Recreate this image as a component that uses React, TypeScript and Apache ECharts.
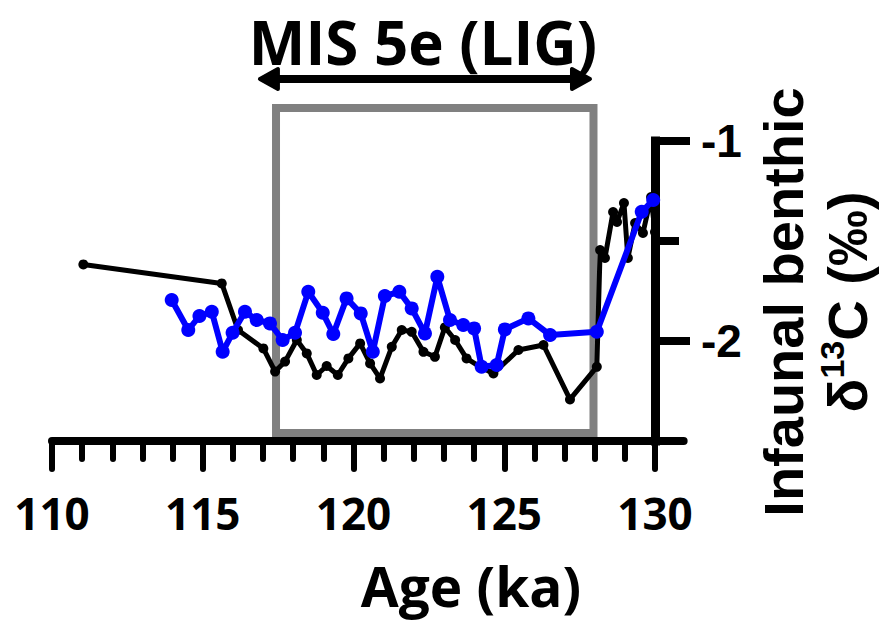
import React, { useEffect, useRef } from "react";
import * as echarts from "echarts";

// Black series: age (ka) and infaunal benthic δ13C (‰)
const blackAge = [
  111.04, 115.63, 116.17, 117.01, 117.4, 117.73, 118.12, 118.45, 118.78, 119.11,
  119.48, 119.83, 120.22, 120.55, 120.88, 121.27, 121.6, 121.93, 122.32, 122.7,
  123.03, 123.37, 123.75, 124.2, 124.64, 125.47, 126.3, 127.18, 128.07, 128.18,
  128.34, 128.61, 128.74, 128.97, 129.1, 129.34, 129.6, 129.87, 130.0,
];
const blackD13C = [
  -1.617, -1.712, -1.945, -2.037, -2.153, -2.103, -1.995, -2.062, -2.17, -2.125,
  -2.17, -2.087, -2.012, -2.112, -2.187, -2.029, -1.945, -1.954, -2.054, -2.079,
  -1.932, -1.995, -2.087, -2.129, -2.162, -2.045, -2.02, -2.292, -2.129, -1.545,
  -1.585, -1.355, -1.405, -1.31, -1.585, -1.41, -1.46, -1.28, -1.455,
];

// Blue series
const blueAge = [
  113.97, 114.52, 114.89, 115.3, 115.66, 115.99, 116.4, 116.79, 117.23, 117.65,
  118.06, 118.5, 118.98, 119.33, 119.77, 120.24, 120.64, 121.04, 121.52, 121.93,
  122.37, 122.78, 123.2, 123.64, 124.0, 124.25, 124.75, 125.02, 125.8, 126.52,
  128.07, 129.56, 129.94,
];
const blueD13C = [
  -1.795, -1.945, -1.875, -1.854, -2.054, -1.959, -1.854, -1.895, -1.912, -1.995,
  -1.959, -1.754, -1.859, -1.965, -1.787, -1.862, -2.054, -1.775, -1.754, -1.837,
  -1.962, -1.679, -1.895, -1.92, -1.937, -2.129, -2.12, -1.942, -1.887, -1.97,
  -1.954, -1.354, -1.295,
];

// Axes
const xMin = 110;
const xMax = 130;
const xAxisLineEnd = 130.95;
const xMajorTicks = [110, 115, 120, 125, 130];
const yMin = -2.5;
const yMax = -1;
const yMajorTicks = [-1, -2];
const yMinorTicks = [-1.5];

// MIS 5e interval (box) and arrow, in data units
const lig = { start: 117.43, end: 127.96, top: -0.835, bottom: -2.46 };
const arrow = { start: 116.83, end: 127.91, level: -0.69 };

const titleText = "MIS 5e (LIG)";
const xName = "Age (ka)";

export default function App() {
  const ref = useRef<HTMLDivElement>(null);
  useEffect(() => {
    document.body.style.margin = "0";
    if (!ref.current) return;
    const chart = echarts.init(ref.current, null, { renderer: "svg" });
    const calib = '"Open Sans", "Noto Sans", sans-serif';
    const arial = '"Liberation Sans", Arial, sans-serif';
    const option: any = {
      animation: false,
      backgroundColor: "#fff",
      grid: { left: 52, right: 879 - 655, top: 141, bottom: 622 - 441, containLabel: false },
      xAxis: [
        {
          type: "value",
          min: xMin,
          max: xMax,
          interval: 5,
          axisLine: { show: false },
          axisTick: {
            show: true,
            length: 28,
            customValues: xMajorTicks,
            lineStyle: { color: "#000", width: 6, cap: "round" },
          },
          minorTick: {
            show: true,
            splitNumber: 5,
            length: 18,
            lineStyle: { color: "#000", width: 6, cap: "round" },
          },
          axisLabel: {
            customValues: xMajorTicks,
            margin: 50,
            color: "#000",
            fontFamily: calib,
            fontWeight: "bold",
            fontSize: 44,
            lineHeight: 44,
          },
          splitLine: { show: false },
          minorSplitLine: { show: false },
        },
      ],
      yAxis: [
        {
          type: "value",
          min: yMin,
          max: yMax,
          interval: 0.5,
          position: "right",
          axisLine: { show: true, lineStyle: { color: "#000", width: 9, cap: "square" } },
          axisTick: {
            show: true,
            customValues: yMajorTicks,
            length: 35,
            lineStyle: { color: "#000", width: 8 },
          },
          axisLabel: {
            customValues: yMajorTicks,
            margin: 46,
            color: "#000",
            fontFamily: arial,
            fontWeight: "bold",
            fontSize: 46,
          },
          splitLine: { show: false },
        },
        {
          type: "value",
          min: yMin,
          max: yMax,
          interval: 0.5,
          position: "right",
          axisLine: { show: false },
          axisTick: {
            show: true,
            customValues: yMinorTicks,
            length: 24,
            lineStyle: { color: "#000", width: 8 },
          },
          axisLabel: { show: false },
          splitLine: { show: false },
        },
      ],
      series: [
        {
          type: "line",
          name: "black",
          data: blackAge.map((a, i) => [a, blackD13C[i]]),
          symbol: "circle",
          symbolSize: 10,
          lineStyle: { color: "#000", width: 5 },
          itemStyle: { color: "#000" },
          z: 3,
        },
        {
          type: "line",
          name: "blue",
          data: blueAge.map((a, i) => [a, blueD13C[i]]),
          symbol: "circle",
          symbolSize: 14,
          lineStyle: { color: "#0000ff", width: 6 },
          itemStyle: { color: "#0000ff" },
          z: 4,
        },
      ],
    };
    chart.setOption(option);

    const px = (x: number, y: number) =>
      chart.convertToPixel({ xAxisIndex: 0, yAxisIndex: 0 }, [x, y]) as number[];

    const boxTL = px(lig.start, lig.top);
    const boxBR = px(lig.end, lig.bottom);
    const axA = px(xMin, yMin);
    const axB = px(xAxisLineEnd, yMin);
    const arA = px(arrow.start, arrow.level);
    const arB = px(arrow.end, arrow.level);
    const head = 20;
    const half = 10;

    chart.setOption({
      graphic: [
        {
          type: "rect",
          z: 1,
          silent: true,
          shape: { x: boxTL[0], y: boxTL[1], width: boxBR[0] - boxTL[0], height: boxBR[1] - boxTL[1] },
          style: { fill: "none", stroke: "#808080", lineWidth: 8 },
        },
        {
          type: "line",
          z: 5,
          silent: true,
          shape: { x1: axA[0], y1: axA[1], x2: axB[0], y2: axB[1] },
          style: { stroke: "#000", lineWidth: 8, lineCap: "round" },
        },
        {
          type: "line",
          z: 5,
          silent: true,
          shape: { x1: arA[0] + head - 4, y1: arA[1], x2: arB[0] - head + 4, y2: arB[1] },
          style: { stroke: "#000", lineWidth: 8 },
        },
        {
          type: "polygon",
          z: 5,
          silent: true,
          shape: { points: [[arA[0] + 2, arA[1]], [arA[0] + head, arA[1] - half], [arA[0] + head, arA[1] + half]] },
          style: { fill: "#000", stroke: "#000", lineWidth: 4, lineJoin: "round" },
        },
        {
          type: "polygon",
          z: 5,
          silent: true,
          shape: { points: [[arB[0] - 2, arB[1]], [arB[0] - head, arB[1] - half], [arB[0] - head, arB[1] + half]] },
          style: { fill: "#000", stroke: "#000", lineWidth: 4, lineJoin: "round" },
        },
        {
          type: "text",
          x: 423,
          y: 42,
          style: {
            text: titleText,
            fill: "#000",
            font: `bold 60px ${calib}`,
            lineHeight: 60,
            align: "center",
            verticalAlign: "middle",
          },
        },
        {
          type: "text",
          x: 471,
          y: 585,
          style: {
            text: xName,
            fill: "#000",
            font: `bold 55px ${calib}`,
            lineHeight: 55,
            align: "center",
            verticalAlign: "middle",
          },
        },
        {
          type: "text",
          x: 815,
          y: 302,
          rotation: Math.PI / 2,
          style: {
            text: "Infaunal benthic\nδ{sup|13}C (‰)",
            fill: "#000",
            font: `bold 56px ${arial}`,
            lineHeight: 64,
            align: "center",
            verticalAlign: "middle",
            rich: {
              sup: {
                fontFamily: arial,
                fontWeight: "bold",
                fontSize: 34,
                verticalAlign: "top",
                lineHeight: 64,
                padding: [0, 0, 16, 0],
              },
            },
          },
        },
      ],
    });
    return () => chart.dispose();
  }, []);
  return <div ref={ref} style={{ width: 879, height: 622 }} />;
}
